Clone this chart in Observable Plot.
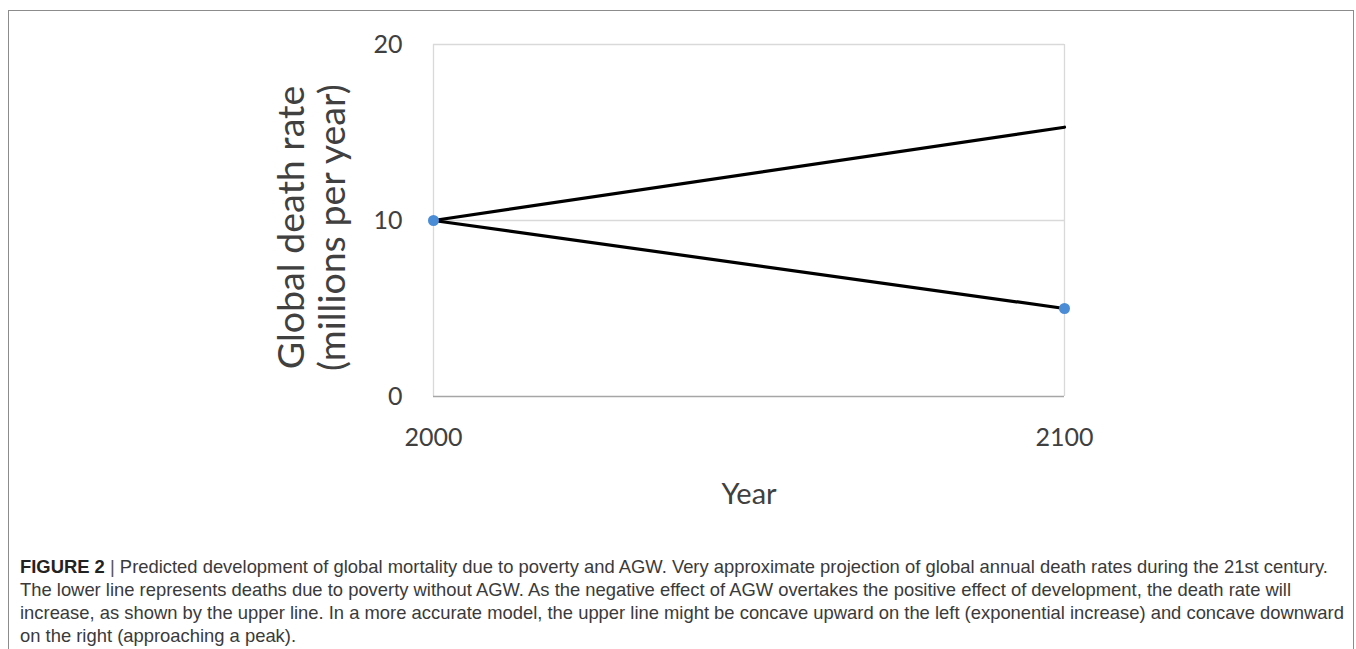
<!DOCTYPE html>
<html><head><meta charset="utf-8">
<script src="https://cdn.jsdelivr.net/npm/d3@7"></script>
<script src="https://cdn.jsdelivr.net/npm/@observablehq/plot@0.6"></script>
<style>
html,body{margin:0;padding:0;background:#fff;overflow:hidden;width:1356px;height:649px;}
#frame{position:absolute;left:8px;top:10px;width:1346px;height:720px;border:1px solid #8c8c8c;box-sizing:border-box;}
#chart{position:absolute;left:0;top:0;}
#caption{position:absolute;left:20px;top:555px;width:1333px;font-family:"Liberation Sans",Arial,sans-serif;font-size:18.4px;line-height:23px;color:#3a3a3a;}
#caption div{white-space:nowrap;height:23px;}
#caption b{color:#222;}
</style></head><body>
<div id="frame"></div>
<div id="chart"></div>
<div id="caption">
<div><b>FIGURE 2</b>&nbsp;<span style="color:#555">|</span>&nbsp;<span>Predicted development of global mortality due to poverty and AGW. Very approximate projection of global annual death rates during the 21st century.</span></div>
<div>The lower line represents deaths due to poverty without AGW. As the negative effect of AGW overtakes the positive effect of development, the death rate will</div>
<div>increase, as shown by the upper line. In a more accurate model, the upper line might be concave upward on the left (exponential increase) and concave downward</div>
<div>on the right (approaching a peak).</div>
</div>
<script>
const years = [2000, 2100];
const upperLine = [10, 15.3];
const lowerLine = [10, 5];
const yTicks = [0, 10, 20];
const xTicks = [2000, 2100];
const yTitle = "Global death rate\n(millions per year)";
const xTitle = "Year";

const upper = years.map((x, i) => ({x, y: upperLine[i]}));
const lower = years.map((x, i) => ({x, y: lowerLine[i]}));

const chart = Plot.plot({
  width: 1356,
  height: 530,
  marginLeft: 433,
  marginRight: 292,
  marginTop: 44,
  marginBottom: 134,
  style: {fontFamily: "Lato, 'Open Sans', sans-serif", fontSize: "25px", color: "#404040", background: "transparent"},
  x: {domain: [2000, 2100], ticks: xTicks, tickFormat: d => String(d)},
  y: {domain: [0, 20], ticks: yTicks},
  marks: [
    Plot.gridY(yTicks.filter(d => d > 0), {stroke: "#d9d9d9", strokeOpacity: 1, strokeWidth: 1.3}),
    Plot.ruleX(xTicks, {stroke: "#d9d9d9", strokeWidth: 1.3}),
    Plot.ruleY([0], {stroke: "#a6a6a6", strokeWidth: 1.6}),
    Plot.axisY({ticks: yTicks, tickSize: 0, tickPadding: 31, label: null}),
    Plot.axisX({ticks: xTicks, tickSize: 0, tickPadding: 32, label: null, tickFormat: d => String(d)}),
    Plot.line(upper, {x: "x", y: "y", stroke: "#000", strokeWidth: 3.2}),
    Plot.line(lower, {x: "x", y: "y", stroke: "#000", strokeWidth: 3.2}),
    Plot.dot(lower, {x: "x", y: "y", r: 5.5, fill: "#4a8cd6", stroke: "none"}),
    Plot.text([yTitle], {text: d => d, frameAnchor: "left", textAnchor: "middle", lineAnchor: "middle", rotate: -90, dx: -122, dy: 7, fontSize: 37.5, lineHeight: 1.1, fill: "#404040"}),
    Plot.text([xTitle], {text: d => d, frameAnchor: "bottom", dy: 107, fontSize: 29, fill: "#404040"})
  ]
});
document.getElementById("chart").appendChild(chart);
</script>
</body></html>
